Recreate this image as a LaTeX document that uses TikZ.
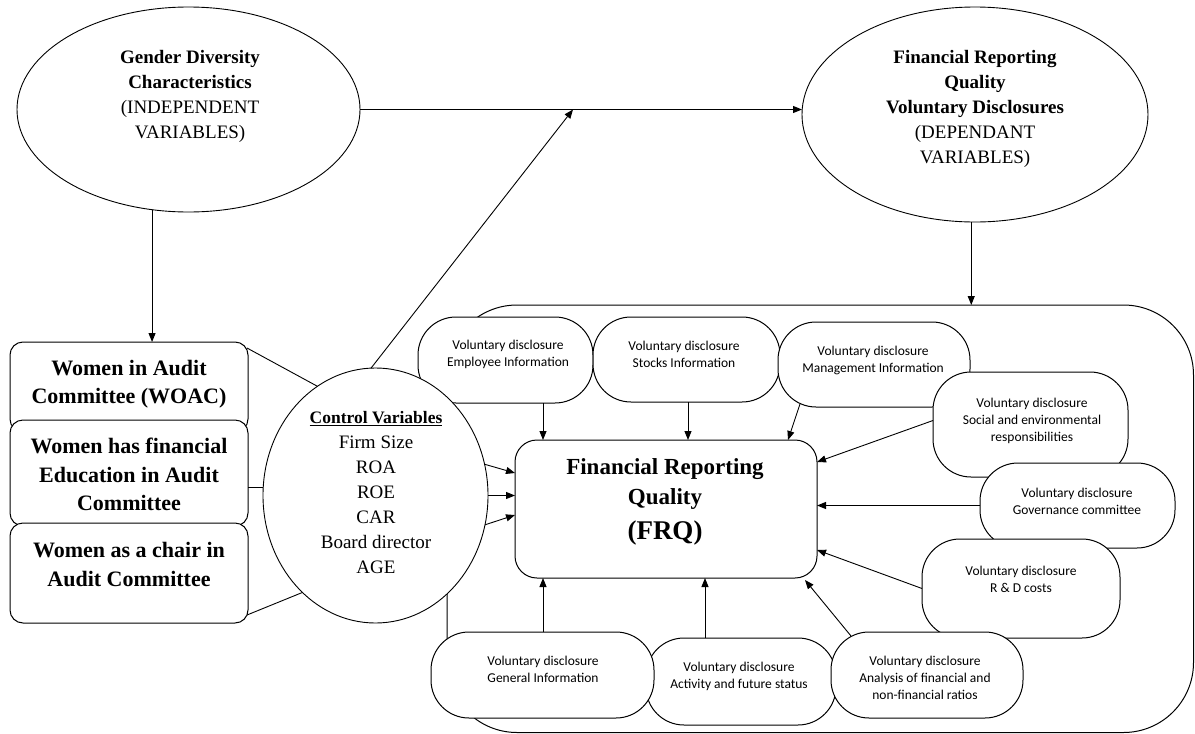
\documentclass[tikz,border=0pt]{standalone}
\usepackage{fontspec}
\setmainfont{Liberation Serif}
\newfontfamily\volfont{Carlito}
\usetikzlibrary{arrows.meta,shapes.geometric,calc}
\begin{document}
\begin{tikzpicture}[x=1pt,y=-1pt,
  line/.style={line width=0.9pt},
  arr/.style={line width=0.9pt,-{Triangle[length=9pt,width=7pt]}},
  ell/.style={ellipse,draw,line width=0.9pt,fill=white,inner sep=0pt,outer sep=0pt},
  lbox/.style={draw,line width=1pt,fill=white,rounded corners=13pt,minimum width=238pt,inner sep=0pt,outer sep=0pt},
  vbox/.style={draw,line width=1pt,fill=white,rounded corners=38pt,inner sep=0pt,outer sep=0pt},
  vtext/.style={font=\volfont\fontsize{13.5}{17}\selectfont,align=center,inner sep=0pt},
  etext/.style={font=\fontsize{19}{25}\selectfont,align=center,inner sep=0pt},
  ltext/.style={font=\bfseries\fontsize{22}{28.5}\selectfont,align=center,inner sep=0pt}
]
\fill[white] (0,0) rectangle (1195,734);
\useasboundingbox (0,0) rectangle (1195,734);

% container
\node[draw,line width=1pt,rounded corners=70pt,minimum width=746.5pt,minimum height=427.5pt,inner sep=0pt,outer sep=0pt] (cont) at (820.25,518.75) {};

% voluntary disclosure boxes
\node[vbox,minimum width=175pt,minimum height=86pt] (vEmp) at (505.5,360) {};
\node[vtext] (tEmp) at (508,354.5) {Voluntary disclosure\\Employee Information};
\node[vbox,minimum width=187pt,minimum height=85pt] (vSto) at (686.5,359.5) {};
\node[vtext] (tSto) at (684,354) {Voluntary disclosure\\Stocks Information};
\node[vbox,minimum width=192pt,minimum height=85pt] (vMan) at (874,364.5) {};
\node[vtext] (tMan) at (873,360) {Voluntary disclosure\\Management Information};
\node[vbox,minimum width=195pt,minimum height=105pt] (vSoc) at (1030.5,424.5) {};
\node[vtext] (tSoc) at (1032,420.5) {Voluntary disclosure\\Social and environmental\\responsibilities};
\node[vbox,minimum width=195pt,minimum height=85pt] (vGov) at (1077.5,505.5) {};
\node[vtext] (tGov) at (1077,501.5) {Voluntary disclosure\\Governance committee};
\node[vbox,minimum width=198pt,minimum height=99pt] (vRD) at (1021,588.5) {};
\node[vtext] (tRD) at (1021,579.5) {Voluntary disclosure\\R \& D costs};
\node[vbox,minimum width=190pt,minimum height=87pt] (vAct) at (741,681.5) {};
\node[vtext] (tAct) at (739,676.5) {Voluntary disclosure\\Activity and future status};
\node[vbox,minimum width=223pt,minimum height=86pt] (vGen) at (542.5,675) {};
\node[vtext] (tGen) at (543,669) {Voluntary disclosure\\General Information};
\node[vbox,minimum width=192pt,minimum height=86pt] (vAna) at (927,675) {};
\node[vtext] (tAna) at (925,677.5) {Voluntary disclosure\\Analysis of financial and\\non-financial ratios};

% FRQ box
\node[draw,line width=1pt,fill=white,rounded corners=22pt,minimum width=302pt,minimum height=138pt,inner sep=0pt,outer sep=0pt] (frq) at (666,509) {};
\node[align=center,inner sep=0pt,font=\bfseries\fontsize{23}{30}\selectfont] (frqtxt) at (665,502) {Financial Reporting\\Quality\\[5pt]{\fontsize{27}{30}\selectfont (FRQ)}};

% control ellipse
\node[ell,minimum width=225pt,minimum height=255pt] (ctrl) at (375.5,495.5) {};
\node[etext] (ctxt) at (376,493) {{\fontsize{17.5}{25.5}\selectfont\bfseries\underline{Control Variables}}\\Firm Size\\ROA\\ROE\\CAR\\Board director\\AGE};

% left boxes
\node[lbox,minimum height=90pt] (box1) at (129,387) {};
\node[lbox,minimum height=106pt] (box2) at (129,473) {};
\node[lbox,minimum height=100pt] (box3) at (129,573) {};
\node[ltext] (t1) at (129,384) {Women in Audit\\Committee (WOAC)};
\node[ltext] (t2) at (129,474.5) {Women has financial\\Education in Audit\\Committee};
\node[ltext] (t3) at (129,564.5) {Women as a chair in\\Audit Committee};

% top ellipses
\node[ell,minimum width=343pt,minimum height=205pt] (gender) at (188.5,109.5) {};
\node[etext] (gtxt) at (190,96.5) {\textbf{Gender Diversity}\\\textbf{Characteristics}\\(INDEPENDENT\\VARIABLES)};
\node[ell,minimum width=346pt,minimum height=215pt] (frqv) at (975,114.5) {};
\node[etext] (ftxt) at (975,108.5) {\textbf{Financial Reporting}\\\textbf{Quality}\\\textbf{Voluntary Disclosures}\\(DEPENDANT\\VARIABLES)};

% connectors
\coordinate (meet) at (573,109.5);
\draw[arr] (gender.250) -- (gender.250 |- box1.north);
\draw[arr] (gender.east) -- (gender.east -| frqv.west);
\draw[arr] (ctrl.92) -- (meet);
\draw[arr] (frqv.268) -- (frqv.268 |- cont.north);

\coordinate (b2c) at ($(box2.east)+(0,14)$);
\draw[line] ($(box1.north east)+(-1,6)$) -- (ctrl.118);
\draw[line] (b2c) -- (b2c -| ctrl.west);
\draw[line] ($(box3.south east)+(-1,-8)$) -- (ctrl.233);

\draw[arr] (ctrl.16) -- (frq.west |- 0,473);
\draw[arr] (ctrl.east) -- (ctrl.east -| frq.west);
\draw[arr] (ctrl.-15) -- (frq.west |- 0,515);

\coordinate (manS) at ($(vMan.south)+(-74,-3)$);
\coordinate (anaN) at ($(vAna.north)+(-76,4)$);
\coordinate (anaTip) at ($(frq.south east)+(-12,2)$);
\draw[arr] (543,0 |- vEmp.south) -- (543,0 |- frq.north);
\draw[arr] (688,0 |- vSto.south) -- (688,0 |- frq.north);
\draw[arr] (manS) -- (788,0 |- frq.north);
\draw[arr] ($(vSoc.west)+(0,-4)$) -- (frq.east |- 0,462);
\draw[arr] (vGov.west) -- (vGov.west -| frq.east);
\draw[arr] (vRD.west) -- (frq.east |- 0,550);
\draw[arr] (543,0 |- vGen.north) -- (543,0 |- frq.south);
\draw[arr] (705,0 |- vAct.north) -- (705,0 |- frq.south);
\draw[arr] (anaN) -- (anaTip);
\end{tikzpicture}
\end{document}
